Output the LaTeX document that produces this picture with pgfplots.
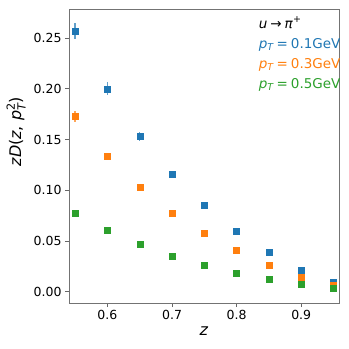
\documentclass[border=0pt]{standalone}
\usepackage{fontspec}
\setmainfont{DejaVu Sans}
\usepackage{amsmath}
\usepackage{pgfplots}
\pgfplotsset{compat=1.18}
\definecolor{c0}{HTML}{1F77B4}
\definecolor{c1}{HTML}{FF7F0E}
\definecolor{c2}{HTML}{2CA02C}

% z, value, error
\pgfplotstableread{
z v e
0.55 0.257 0.008
0.60 0.200 0.0065
0.65 0.153 0.004
0.70 0.1158 0.003
0.75 0.0853 0.002
0.80 0.0600 0.0015
0.85 0.0387 0.001
0.90 0.0216 0.001
0.95 0.0092 0.001
}\ptone
\pgfplotstableread{
z v e
0.55 0.1729 0.0055
0.60 0.1338 0.003
0.65 0.1030 0.0015
0.70 0.0777 0.001
0.75 0.0574 0.001
0.80 0.0407 0.001
0.85 0.0262 0.001
0.90 0.0148 0.001
0.95 0.0068 0.001
}\ptthree
\pgfplotstableread{
z v e
0.55 0.0777 0.001
0.60 0.0603 0.001
0.65 0.0466 0.001
0.70 0.0354 0.001
0.75 0.0262 0.001
0.80 0.0184 0.001
0.85 0.0121 0.001
0.90 0.0072 0.001
0.95 0.0032 0.001
}\ptfive

\begin{document}
\begin{tikzpicture}[x=1pt,y=1pt]
\path[use as bounding box] (0,0) rectangle (349,349);
\begin{axis}[
  at={(69pt,46pt)}, anchor=south west,
  scale only axis, width=270pt, height=294pt,
  xmin=0.5405, xmax=0.9585, ymin=-0.011, ymax=0.2786,
  xtick={0.6,0.7,0.8,0.9},
  ytick={0,0.05,0.10,0.15,0.20,0.25},
  xtick pos=bottom, ytick pos=left,
  tick align=outside, major tick length=4pt,
  axis line style={black!55, line width=0.9pt},
  tick style={black!60, line width=0.8pt},
  tick label style={font=\fontsize{12.5}{15}\selectfont},
  /pgf/number format/assume math mode=true,
  scaled y ticks=false,
  yticklabel style={/pgf/number format/.cd, fixed, fixed zerofill, precision=2},
  xticklabel style={/pgf/number format/.cd, fixed, precision=1},
  label style={font=\fontsize{16}{19}\selectfont},
  xlabel={\textit{z}},
  xlabel style={at={(rel axis cs:0.5,-0.112)}, anchor=base},
  ylabel={\textit{zD}(\textit{z}, \textit{p}$^{\text{2}}_{\text{\itshape T}}$)},
  ylabel style={at={(rel axis cs:-0.196,0.583)}, anchor=center, rotate=0},
  every axis plot/.append style={only marks, mark=square*, mark size=3pt,
    error bars/y dir=both, error bars/y explicit, error bars/error mark=none,
    error bars/error bar style={line width=1.3pt, opacity=0.7}},
]
\addplot[c0, mark options={fill=c0, draw=c0}] table[x=z, y=v, y error=e] {\ptone};
\addplot[c1, mark options={fill=c1, draw=c1}] table[x=z, y=v, y error=e] {\ptthree};
\addplot[c2, mark options={fill=c2, draw=c2}] table[x=z, y=v, y error=e] {\ptfive};
\node[anchor=base west, font=\fontsize{13.5}{16}\selectfont, text=black] at (rel axis cs:0.69,0.935) {\textit{u}\kern3pt→\kern3pt\textit{π}$^{\text{+}}$};
\node[anchor=base west, font=\fontsize{13.5}{16}\selectfont, text=c0] at (rel axis cs:0.69,0.867) {\textit{p}$_{\text{\itshape T}}$\kern3pt=\kern3pt0.1GeV};
\node[anchor=base west, font=\fontsize{13.5}{16}\selectfont, text=c1] at (rel axis cs:0.69,0.799) {\textit{p}$_{\text{\itshape T}}$\kern3pt=\kern3pt0.3GeV};
\node[anchor=base west, font=\fontsize{13.5}{16}\selectfont, text=c2] at (rel axis cs:0.69,0.731) {\textit{p}$_{\text{\itshape T}}$\kern3pt=\kern3pt0.5GeV};
\end{axis}
\end{tikzpicture}
\end{document}
